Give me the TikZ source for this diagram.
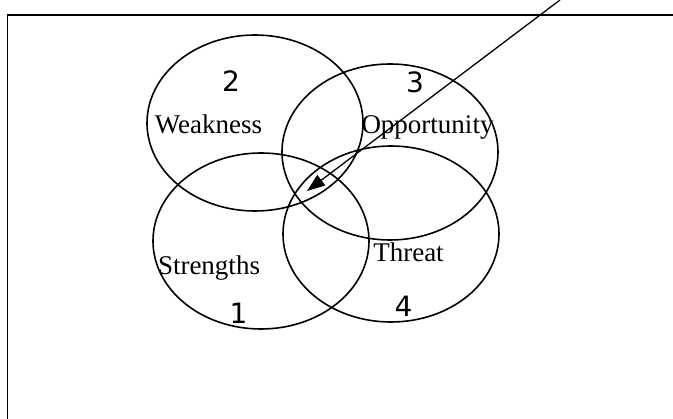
\documentclass[tikz,border=0pt]{standalone}
\usepackage{fontspec}
\setmainfont{Liberation Serif}
\newfontfamily\digitfont{DejaVu Sans}
\usetikzlibrary{shapes.geometric,arrows.meta}
\tikzset{
  venn/.style={draw, ellipse, line width=1.6pt, inner sep=0pt, minimum width=216pt, minimum height=176pt},
  word/.style={anchor=base, inner sep=0pt, font=\fontsize{27}{27}\selectfont},
  num/.style={anchor=base, inner sep=0pt, font=\digitfont\fontsize{28}{28}\selectfont},
  frame/.style={line width=1.8pt},
  pointer/.style={line width=1.3pt, -{Triangle[length=18pt,width=13pt]}}
}
\begin{document}
\begin{tikzpicture}[x=1pt,y=-1pt]
\useasboundingbox (0,0) rectangle (673,419);
\draw[frame] (673,15) -- (7.5,15) -- (7.5,419);
\node[venn] (weak) at (255,123) {};
\node[venn] (opp) at (390,152) {};
\node[venn] (str) at (261,241) {};
\node[venn] (thr) at (391,234) {};
\node[num] (n2) at (231,92) {2};
\node[num] (n3) at (415,93) {3};
\node[num] (n1) at (238.5,324) {1};
\node[num] (n4) at (403.5,317) {4};
\node[word] (tw) at (208.5,134) {Weakness};
\node[word] (to) at (427.5,134) {Opportunity};
\node[word] (ts) at (209,275) {Strengths};
\node[word] (tt) at (408.5,262) {Threat};
\coordinate (start) at (560,0);
\coordinate (tip) at (307,191);
\draw[pointer] (start) -- (tip);
\end{tikzpicture}
\end{document}
